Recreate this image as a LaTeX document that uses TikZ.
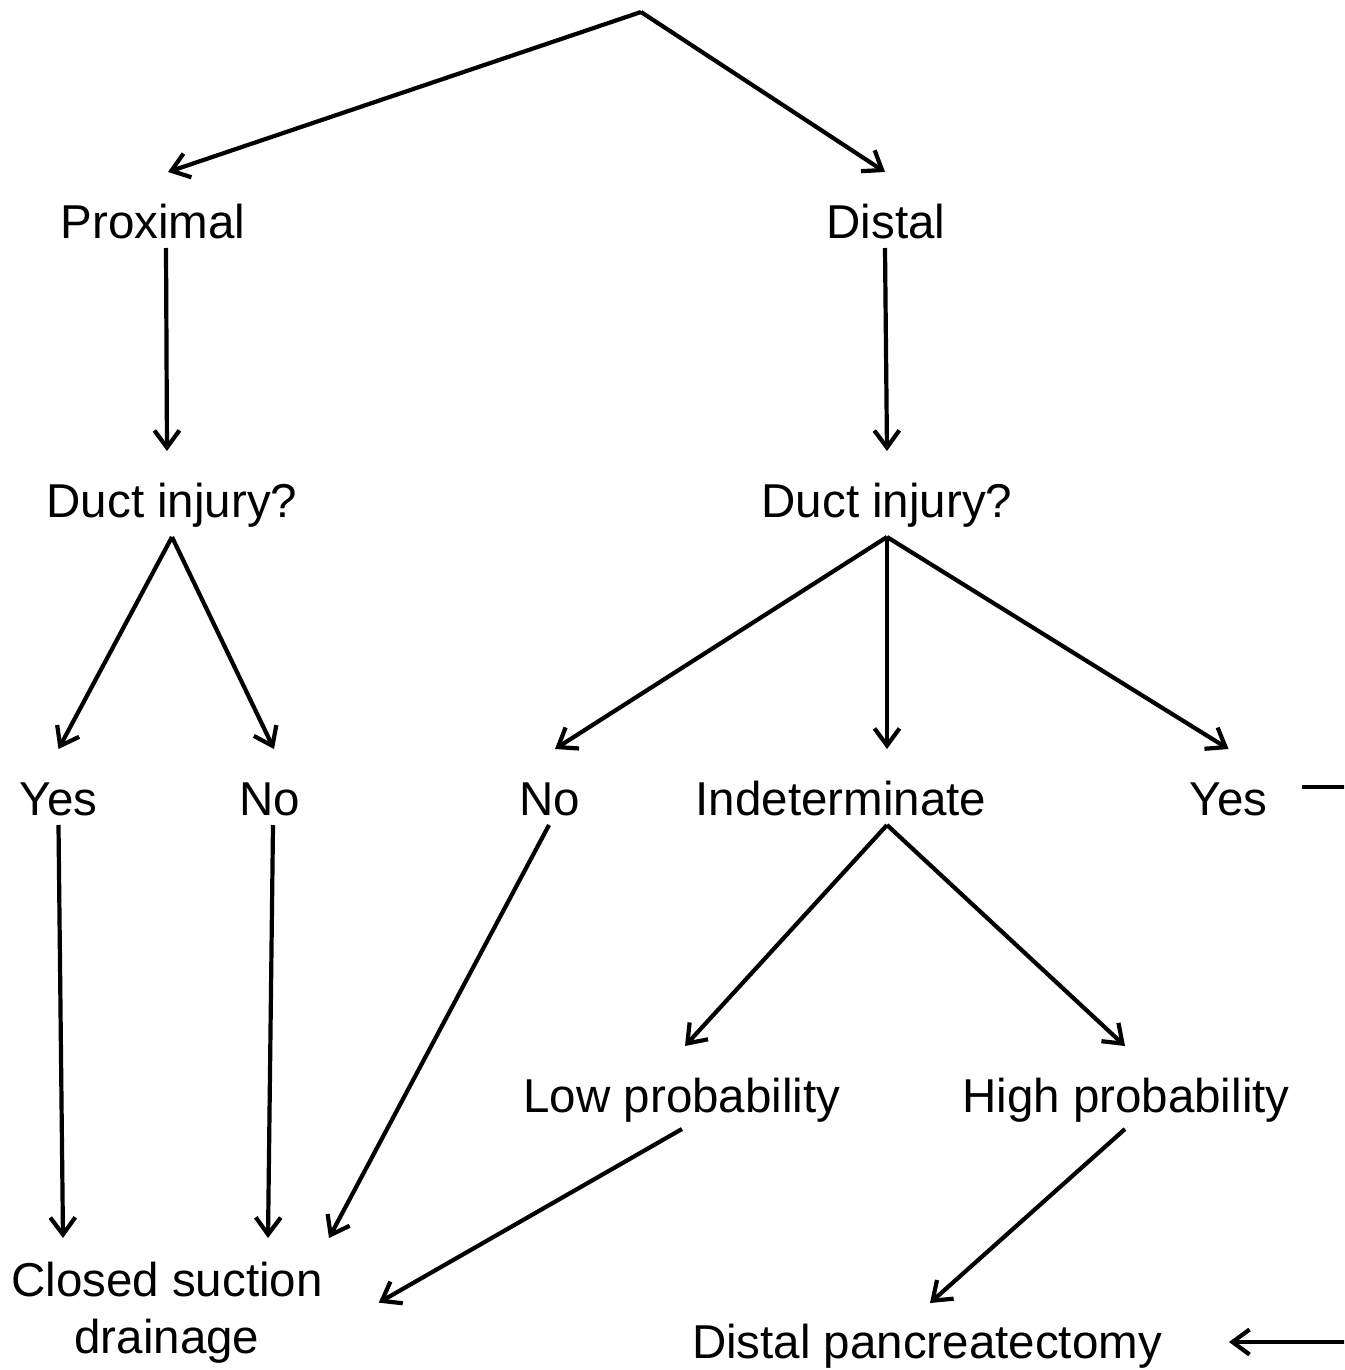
\documentclass[tikz,border=0pt]{standalone}
\usepackage{fontspec}
\setmainfont{Liberation Sans}
\usetikzlibrary{arrows.meta}
\tikzset{
  lbl/.style={inner sep=0pt, outer sep=0pt, anchor=base, text height=66pt, text depth=#1,
    font=\fontsize{47.5pt}{56pt}\selectfont},
  lbl/.default=10pt,
  arr/.style={line width=4.2pt, -{Straight Barb[length=17pt,width=25pt,line width=4.2pt]}}
}
\begin{document}
\begin{tikzpicture}[x=1pt,y=-1pt]
\clip (0,0) rectangle (1344,1370);
\fill[white] (0,0) rectangle (1344,1370);

\coordinate (root) at (641,12);
\node[lbl] (prox) at (153,238) {Proximal};
\node[lbl] (dist) at (886,238) {Distal};
\node[lbl=20pt] (duct1) at (172,517) {Duct injury?};
\node[lbl=20pt] (duct2) at (887,517) {Duct injury?};
\node[lbl] (yes1) at (58.5,815) {Yes};
\node[lbl] (no1) at (270,815) {No};
\node[lbl] (no2) at (550,815) {No};
\node[lbl] (ind) at (841,815) {Indeterminate};
\node[lbl] (yes2) at (1228.5,815) {Yes};
\node[lbl=17pt] (low) at (682,1112) {Low probability};
\node[lbl=17pt] (high) at (1126,1112) {High probability};
\node[inner xsep=0pt, inner ysep=24pt, outer sep=0pt, anchor=north, align=center,
  font=\fontsize{47.5pt}{57pt}\selectfont] (cs) at (167,1238) {Closed suction\\drainage};
\node[lbl=23pt, text height=55pt] (dp) at (927,1358) {Distal pancreatectomy};

\draw[arr] (root) -- ([xshift=15pt]prox.north);
\draw[arr] (root) -- ([xshift=-1pt]dist.north);
\draw[arr] ([xshift=13pt]prox.south) -- ([xshift=-5pt]duct1.north);
\draw[arr] ([xshift=-1pt]dist.south) -- (duct2.north);
\draw[arr] (duct1.south) -- (yes1.north);
\draw[arr] (duct1.south) -- ([xshift=4pt]no1.north);
\draw[arr] (duct2.south) -- ([xshift=5pt]no2.north);
\draw[arr] (duct2.south) -- ([xshift=46pt]ind.north);
\draw[arr] (duct2.south) -- (yes2.north);
\draw[arr] (yes1.south) -- ([xshift=-104pt]cs.north);
\draw[arr] ([xshift=3pt]no1.south) -- ([xshift=101pt]cs.north);
\draw[arr] ([xshift=-1pt]no2.south) -- ([xshift=162pt]cs.north);
\draw[arr] ([xshift=46pt]ind.south) -- ([xshift=3pt]low.north);
\draw[arr] ([xshift=46pt]ind.south) -- ([xshift=-1pt]high.north);
\draw[arr] (low.south) -- ([xshift=56pt,yshift=10pt]cs.east);
\draw[arr] ([xshift=-1pt]high.south) -- ([xshift=3pt]dp.north);
\draw[arr] ([xshift=35pt]yes2.east) -- ++(120,0) |- ([xshift=67pt]dp.east);
\end{tikzpicture}
\end{document}
